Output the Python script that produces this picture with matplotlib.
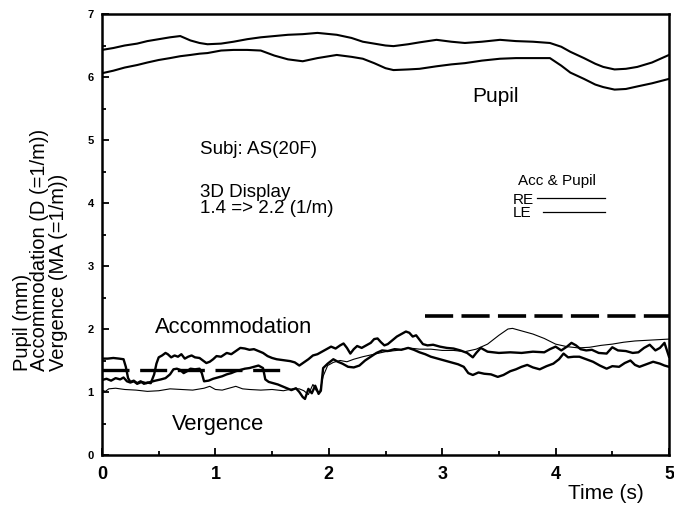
import matplotlib
matplotlib.use("Agg")
import matplotlib.pyplot as plt
from matplotlib.ticker import MultipleLocator

plt.rcParams['font.family'] = ['Liberation Sans', 'DejaVu Sans']

# pupil diameter (mm), two eyes
pupil_t = [0, 0.1, 0.2, 0.31, 0.4, 0.5, 0.6, 0.69, 0.78, 0.86, 0.93, 1.05, 1.16,
           1.28, 1.4, 1.52, 1.64, 1.77, 1.9, 2.07, 2.2, 2.3, 2.4, 2.5, 2.57, 2.7,
           2.8, 2.95, 3.08, 3.2, 3.35, 3.51, 3.65, 3.8, 3.95, 4.05, 4.13, 4.25,
           4.35, 4.42, 4.52, 4.62, 4.72, 4.85, 5.0]
pupil_re = [6.43, 6.46, 6.50, 6.53, 6.57, 6.60, 6.63, 6.65, 6.58, 6.54, 6.52, 6.53, 6.56,
            6.60, 6.63, 6.65, 6.67, 6.68, 6.70, 6.67, 6.62, 6.56, 6.53, 6.50, 6.49, 6.52,
            6.55, 6.59, 6.56, 6.54, 6.56, 6.59, 6.57, 6.56, 6.54, 6.48, 6.40, 6.30,
            6.21, 6.16, 6.12, 6.13, 6.16, 6.23, 6.35]
pupil_le = [6.06, 6.10, 6.15, 6.19, 6.23, 6.27, 6.30, 6.33, 6.35, 6.37, 6.38, 6.42, 6.43,
            6.43, 6.42, 6.34, 6.28, 6.25, 6.30, 6.35, 6.32, 6.29, 6.22, 6.14, 6.11, 6.12,
            6.13, 6.17, 6.20, 6.22, 6.26, 6.29, 6.30, 6.30, 6.30, 6.18, 6.07, 5.97,
            5.88, 5.84, 5.80, 5.81, 5.85, 5.90, 5.97]

# accommodation (D), two eyes
acc1_t = [0, 0.05, 0.1, 0.15, 0.19, 0.21, 0.23, 0.25, 0.28, 0.31, 0.34, 0.37, 0.40,
          0.43, 0.46, 0.48, 0.50, 0.53, 0.56, 0.58, 0.61, 0.64, 0.67, 0.70, 0.73,
          0.76, 0.79, 0.82, 0.86, 0.89, 0.92, 0.95, 0.98, 1.01, 1.05, 1.10, 1.14,
          1.18, 1.22, 1.26, 1.30, 1.34, 1.38, 1.42, 1.46, 1.50, 1.54, 1.58, 1.62,
          1.66, 1.70, 1.74, 1.78, 1.82, 1.86, 1.90, 1.94, 1.98, 2.02, 2.06, 2.10,
          2.13, 2.16, 2.19, 2.22, 2.25, 2.29, 2.33, 2.37, 2.40, 2.43, 2.46, 2.49,
          2.52, 2.56, 2.60, 2.64, 2.68, 2.71, 2.74, 2.77, 2.80, 2.83, 2.87, 2.92,
          2.98, 3.04, 3.10, 3.16, 3.22, 3.27, 3.30, 3.34, 3.40, 3.50, 3.60, 3.70,
          3.80, 3.90, 3.95, 4.00, 4.05, 4.10, 4.14, 4.18, 4.22, 4.27, 4.32, 4.38,
          4.45, 4.50, 4.55, 4.62, 4.68, 4.73, 4.78, 4.83, 4.88, 4.92, 4.96, 5.0]
acc1 = [1.53, 1.53, 1.54, 1.53, 1.52, 1.40, 1.22, 1.16, 1.18, 1.14, 1.17, 1.13, 1.15,
        1.14, 1.28, 1.45, 1.55, 1.58, 1.62, 1.60, 1.55, 1.58, 1.56, 1.60, 1.53,
        1.56, 1.58, 1.55, 1.54, 1.50, 1.46, 1.48, 1.52, 1.57, 1.56, 1.62, 1.60,
        1.65, 1.70, 1.69, 1.67, 1.68, 1.65, 1.62, 1.57, 1.54, 1.52, 1.51, 1.50,
        1.49, 1.47, 1.42, 1.47, 1.52, 1.58, 1.60, 1.64, 1.68, 1.72, 1.69, 1.74,
        1.77, 1.70, 1.61, 1.68, 1.73, 1.70, 1.74, 1.78, 1.84, 1.85, 1.79, 1.74,
        1.76, 1.82, 1.88, 1.92, 1.96, 1.94, 1.88, 1.90, 1.83, 1.76, 1.74, 1.75,
        1.72, 1.70, 1.69, 1.66, 1.62, 1.55, 1.62, 1.70, 1.64, 1.62, 1.63, 1.62,
        1.64, 1.63, 1.68, 1.72, 1.66, 1.72, 1.78, 1.74, 1.68, 1.66, 1.67, 1.62,
        1.61, 1.71, 1.66, 1.65, 1.62, 1.63, 1.70, 1.75, 1.66, 1.70, 1.78, 1.56]

acc2_t = [0, 0.04, 0.08, 0.12, 0.16, 0.19, 0.22, 0.25, 0.28, 0.31, 0.35, 0.39, 0.43,
          0.47, 0.52, 0.56, 0.60, 0.63, 0.66, 0.69, 0.72, 0.75, 0.78, 0.82, 0.86,
          0.88, 0.90, 0.94, 0.98, 1.02, 1.06, 1.10, 1.14, 1.18, 1.22, 1.26, 1.30,
          1.34, 1.38, 1.42, 1.44, 1.47, 1.51, 1.55, 1.59, 1.63, 1.67, 1.71, 1.74,
          1.77, 1.79, 1.82, 1.85, 1.88, 1.91, 1.93, 1.95, 1.99, 2.04, 2.08, 2.12,
          2.17, 2.22, 2.27, 2.32, 2.37, 2.42, 2.47, 2.52, 2.58, 2.64, 2.70, 2.75,
          2.80, 2.85, 2.90, 2.96, 3.02, 3.08, 3.14, 3.19, 3.23, 3.27, 3.32, 3.37,
          3.43, 3.49, 3.54, 3.60, 3.65, 3.70, 3.75, 3.80, 3.86, 3.92, 3.98, 4.03,
          4.07, 4.11, 4.16, 4.21, 4.27, 4.33, 4.39, 4.45, 4.50, 4.56, 4.61, 4.66,
          4.70, 4.74, 4.80, 4.86, 4.92, 4.96, 5.0]
acc2 = [1.19, 1.21, 1.18, 1.22, 1.20, 1.23, 1.17, 1.15, 1.17, 1.13, 1.16, 1.14, 1.16,
        1.18, 1.20, 1.22, 1.28, 1.36, 1.37, 1.35, 1.30, 1.33, 1.37, 1.36, 1.37,
        1.30, 1.17, 1.18, 1.21, 1.23, 1.25, 1.28, 1.30, 1.33, 1.35, 1.37, 1.38,
        1.40, 1.42, 1.38, 1.20, 1.16, 1.14, 1.12, 1.09, 1.06, 1.03, 1.06, 1.00,
        0.92, 0.89, 1.05, 0.98, 1.10, 0.97, 1.02, 1.38, 1.45, 1.52, 1.48, 1.45,
        1.40, 1.39, 1.42, 1.50, 1.56, 1.62, 1.66, 1.65, 1.68, 1.67, 1.70, 1.67,
        1.63, 1.60, 1.56, 1.53, 1.50, 1.47, 1.44, 1.40, 1.30, 1.27, 1.31, 1.29,
        1.28, 1.24, 1.27, 1.33, 1.36, 1.40, 1.43, 1.39, 1.36, 1.41, 1.45, 1.52,
        1.61, 1.55, 1.56, 1.56, 1.52, 1.48, 1.42, 1.37, 1.41, 1.40, 1.46, 1.50,
        1.43, 1.40, 1.44, 1.48, 1.45, 1.42, 1.40]

# vergence (MA)
verg_t = [0, 0.03, 0.06, 0.12, 0.2, 0.3, 0.4, 0.5, 0.6, 0.7, 0.8, 0.9, 0.95, 1.0,
          1.06, 1.12, 1.18, 1.24, 1.3, 1.4, 1.5, 1.6, 1.68, 1.74, 1.78, 1.82, 1.86,
          1.89, 1.92, 1.95, 1.99, 2.04, 2.10, 2.16, 2.22, 2.30, 2.40, 2.50, 2.60,
          2.70, 2.80, 2.90, 3.00, 3.10, 3.20, 3.30, 3.40, 3.50, 3.58, 3.62, 3.70,
          3.80, 3.90, 4.00, 4.10, 4.20, 4.30, 4.40, 4.50, 4.60, 4.70, 4.80, 4.90, 5.0]
verg = [1.03, 1.01, 1.05, 1.06, 1.04, 1.03, 1.01, 1.02, 1.05, 1.04, 1.03, 1.06, 1.09, 1.04,
        1.03, 1.06, 1.09, 1.05, 1.04, 1.03, 1.04, 1.02, 1.05, 1.05, 1.02, 0.96, 1.12,
        1.02, 1.00, 1.25, 1.42, 1.47, 1.50, 1.48, 1.52, 1.56, 1.60, 1.64, 1.66,
        1.70, 1.68, 1.68, 1.66, 1.66, 1.64, 1.68, 1.76, 1.90, 2.00, 2.01, 1.97,
        1.92, 1.85, 1.76, 1.72, 1.70, 1.71, 1.74, 1.76, 1.79, 1.81, 1.82, 1.83, 1.84]

# stimulus demand (1/m): 1.4 -> 2.2
stim1_t = [0, 1.57]
stim1 = [1.35, 1.35]
stim2_t = [2.85, 5.0]
stim2 = [2.2, 2.2]

fig = plt.figure(figsize=(6.74, 5.05), dpi=100)
ax = fig.add_axes([102/674, 1-455/505, 567/674, 441/505])

ax.plot(pupil_t, pupil_re, color='black', lw=1.5)
ax.plot(pupil_t, pupil_le, color='black', lw=1.5)
ax.plot(verg_t, verg, color='black', lw=0.8)
ax.plot(acc1_t, acc1, color='black', lw=1.7)
ax.plot(acc2_t, acc2, color='black', lw=1.7)
ax.plot(stim1_t, stim1, color='black', lw=2.4, dashes=(8.1, 3.2))
ax.plot(stim2_t, stim2, color='black', lw=2.6, dashes=(7.8, 2.3))

ax.set_xlim(0, 5)
ax.set_ylim(0, 7)
ax.xaxis.set_major_locator(MultipleLocator(1))
ax.xaxis.set_minor_locator(MultipleLocator(0.5))
ax.yaxis.set_major_locator(MultipleLocator(1))
ax.yaxis.set_minor_locator(MultipleLocator(0.5))
ax.tick_params(which='both', direction='in', width=1.3)
ax.tick_params(which='major', length=5)
ax.tick_params(which='minor', length=3)
ax.tick_params(axis='x', which='major', labelsize=13, pad=8)
ax.tick_params(axis='y', which='major', labelsize=8, pad=6)
for lab in ax.get_xticklabels() + ax.get_yticklabels():
    lab.set_fontweight('bold')
for s in ax.spines.values():
    s.set_linewidth(1.8)

# annotations
ax.text(3.466, 5.60, 'Pupil', fontsize=15, ha='center', va='baseline')
ax.text(0.864, 4.78, 'Subj: AS(20F)', fontsize=13.5, va='baseline')
ax.text(0.864, 4.10, '3D Display', fontsize=13.5, va='baseline')
ax.text(0.864, 3.84, '1.4 => 2.2 (1/m)', fontsize=13.5, va='baseline')
ax.text(0.47, 1.94, 'Accommodation', fontsize=15.8, va='baseline')
ax.text(0.62, 0.40, 'Vergence', fontsize=15.8, va='baseline')

# eye key
ax.text(3.668, 4.29, 'Acc & Pupil', fontsize=11, va='baseline')
ax.text(3.624, 3.98, 'RE', fontsize=11, va='baseline')
ax.text(3.624, 3.78, 'LE', fontsize=11, va='baseline')
ax.plot([3.836, 4.436], [4.08, 4.08], color='black', lw=0.9)
ax.plot([3.889, 4.436], [3.86, 3.86], color='black', lw=0.9)

fig.text(606/674, 1-499/505, 'Time (s)', fontsize=15, ha='center', va='baseline')
fig.text(22/674, 1-371/505, 'Pupil (mm)', fontsize=14.5, rotation=90, ha='center', va='bottom')
fig.text(40/674, 1-371/505, 'Accommodation (D (=1/m))', fontsize=14.5, rotation=90,
         ha='center', va='bottom')
fig.text(58/674, 1-371/505, 'Vergence (MA (=1/m))', fontsize=14.5, rotation=90,
         ha='center', va='bottom')

fig.savefig('out.png', dpi=100)
